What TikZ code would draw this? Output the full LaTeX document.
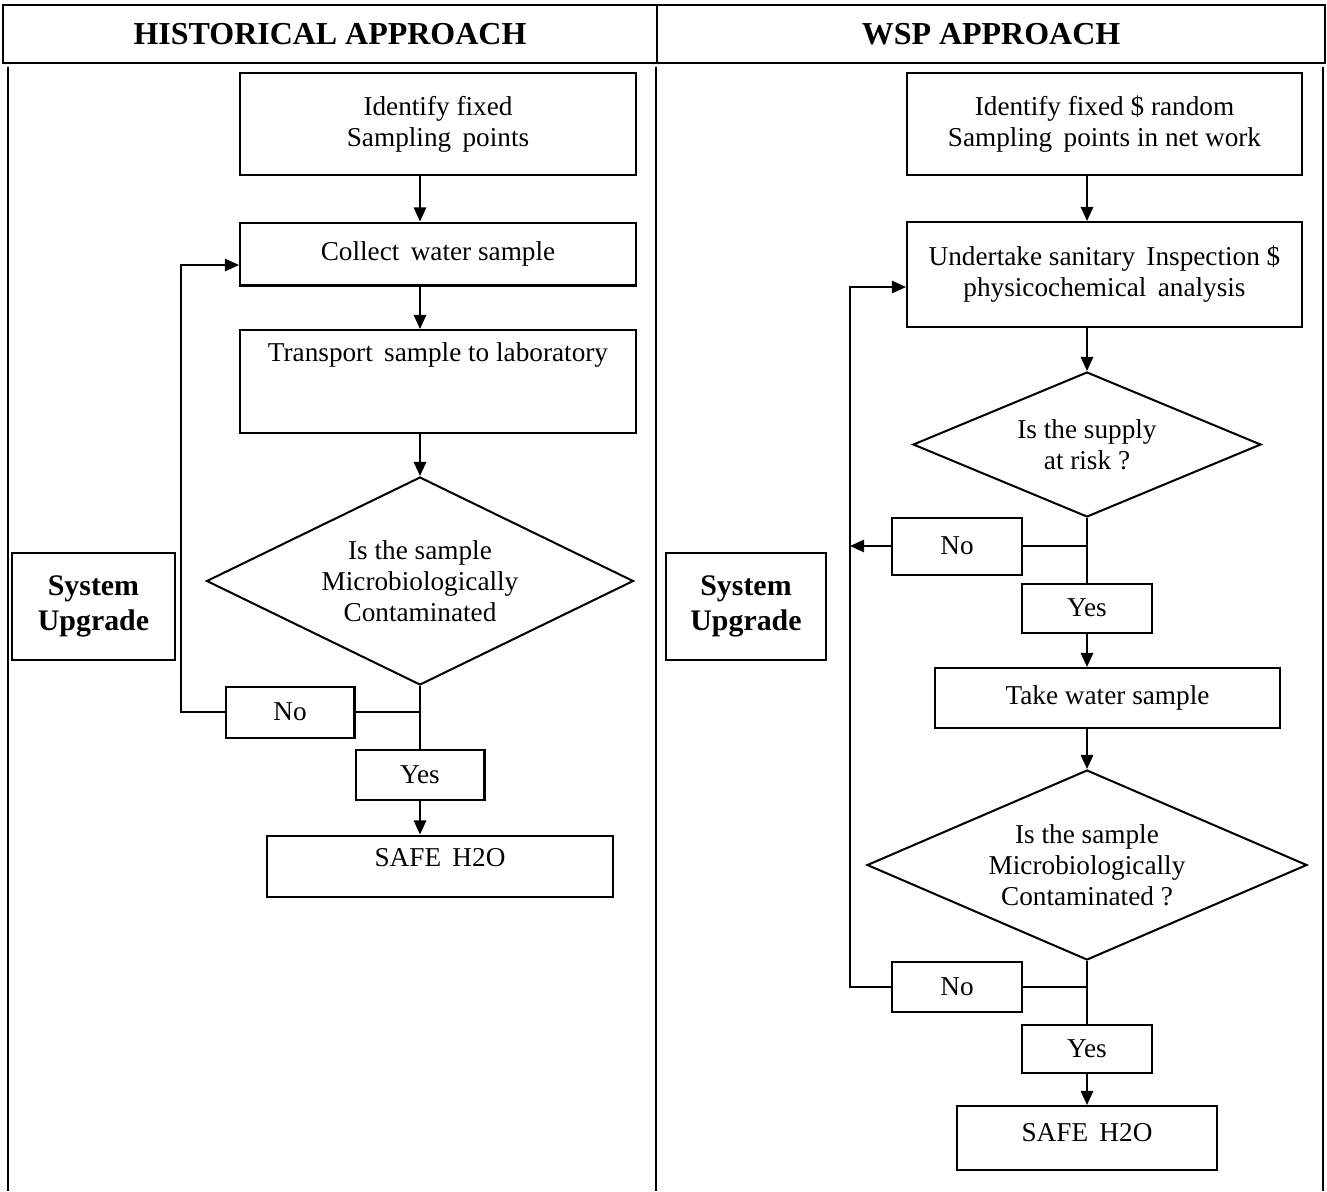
\documentclass[tikz,border=0pt]{standalone}
\usepackage{fontspec}
\setmainfont{Liberation Serif}
\usetikzlibrary{shapes.geometric,arrows.meta,positioning}

\begin{document}
\begin{tikzpicture}[x=0.02cm,y=-0.02cm,>={Triangle[length=8pt,width=7pt]},line width=1.15pt,
  frame/.style={draw,rectangle,inner sep=0pt,font=\fontsize{15.5}{17.6}\selectfont},
  box/.style={frame,align=center},
  decision/.style={draw,diamond,aspect=2,inner sep=0pt,align=center,font=\fontsize{15.5}{17.6}\selectfont},
  headbox/.style={draw,rectangle,inner sep=0pt,font=\fontsize{18.2}{20}\selectfont\bfseries},
  upgrade/.style={draw,rectangle,inner sep=0pt,align=center,font=\fontsize{17}{19.5}\selectfont\bfseries}]
  \useasboundingbox (0,0) rectangle (1327,1191);

  % table
  \node[headbox,minimum width=13.08cm,minimum height=1.16cm] (hdh) at (330,34) {HISTORICAL APPROACH};
  \node[headbox,minimum width=13.36cm,minimum height=1.16cm] (hdw) at (991,34) {WSP APPROACH};
  \draw (8,67) -- (8,1191);
  \draw (656,67) -- (656,1191);
  \draw (1323,67) -- (1323,1191);

  % historical approach
  \node[box,minimum width=7.92cm,minimum height=2.04cm] (idh) at (438,124) {Identify fixed\\Sampling\, points};
  \node[box,minimum width=7.92cm,minimum height=1.26cm] (colh) at (438,254) {Collect\, water sample};
  \node[frame,minimum width=7.92cm,text height=0.62cm,text depth=1.44cm] (trah) at (438,381.5) {Transport\, sample to laboratory};
  \node[decision,minimum width=8.54cm,minimum height=4.16cm] (diah) at (420,581) {Is the sample\\Microbiologically\\Contaminated};
  \node[box,minimum width=2.58cm,minimum height=1.02cm] (nol) at (290,712) {No};
  \node[box,minimum width=2.58cm,minimum height=1.0cm] (yesl) at (420,775) {Yes};
  \node[frame,minimum width=6.92cm,text height=0.62cm,text depth=0.6cm] (safel) at (440,866) {SAFE\, H2O};
  \node[upgrade,minimum width=3.26cm,minimum height=2.14cm] (sysl) at (93.5,606.5) {System\\Upgrade};
  \coordinate (loopl) at (181,265);

  \path[->] (idh.south -| diah.north) edge (colh.north -| diah.north)
            (colh.south -| diah.north) edge (trah.north -| diah.north)
            (trah.south -| diah.north) edge (diah.north)
            (yesl.south) edge (yesl.south |- safel.north);
  \draw (diah.south) -- (yesl.north);
  \draw (nol.east) -- (nol.east -| diah.south);
  \draw[->] (nol.west) -| (loopl) -- (colh.west |- loopl);

  % wsp approach
  \node[box,minimum width=7.9cm,minimum height=2.04cm] (idw) at (1104.5,124) {Identify fixed \$ random\\Sampling\, points in net work};
  \node[box,minimum width=7.9cm,minimum height=2.1cm] (undw) at (1104.5,274.5) {Undertake sanitary\, Inspection \$\\physicochemical\, analysis};
  \node[decision,minimum width=6.96cm,minimum height=2.9cm] (riskw) at (1087,444.5) {Is the supply\\at risk ?};
  \node[box,minimum width=2.6cm,minimum height=1.14cm] (nor1) at (957,546) {No};
  \node[box,minimum width=2.6cm,minimum height=0.98cm] (yesr1) at (1087,608) {Yes};
  \node[box,minimum width=6.9cm,minimum height=1.2cm] (takew) at (1107.5,698) {Take water sample};
  \node[decision,minimum width=8.8cm,minimum height=3.8cm] (contw) at (1087,865) {Is the sample\\Microbiologically\\Contaminated ?};
  \node[box,minimum width=2.6cm,minimum height=1.0cm] (nor2) at (957,987) {No};
  \node[box,minimum width=2.6cm,minimum height=0.96cm] (yesr2) at (1087,1049) {Yes};
  \node[frame,minimum width=5.2cm,text height=0.7cm,text depth=0.58cm] (safew) at (1087,1138) {SAFE\, H2O};
  \node[upgrade,minimum width=3.2cm,minimum height=2.14cm] (sysw) at (746,606.5) {System\\Upgrade};
  \coordinate (loopw) at (850,287);

  \path[->] (idw.south -| riskw.north) edge (undw.north -| riskw.north)
            (undw.south -| riskw.north) edge (riskw.north)
            (yesr1.south) edge (yesr1.south |- takew.north)
            (takew.south -| contw.north) edge (contw.north)
            (yesr2.south) edge (safew.north)
            (nor1.west) edge (nor1.west -| loopw);
  \draw (riskw.south) -- (yesr1.north);
  \draw (nor1.east) -- (nor1.east -| riskw.south);
  \draw (contw.south) -- (yesr2.north);
  \draw (nor2.east) -- (nor2.east -| contw.south);
  \draw[->] (nor2.west) -| (loopw) -- (undw.west |- loopw);
\end{tikzpicture}
\end{document}
